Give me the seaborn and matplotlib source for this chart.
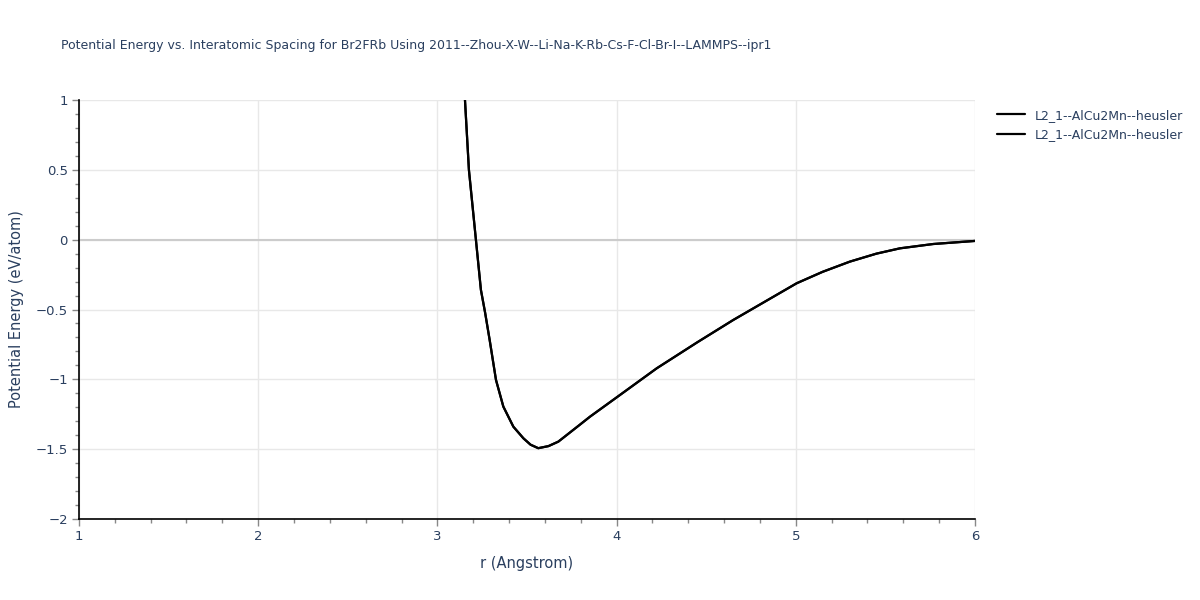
import numpy as np
import pandas as pd
import seaborn as sns
from matplotlib import pyplot as plt
from matplotlib.ticker import MultipleLocator

# values
r_values = [3.154, 3.176, 3.215, 3.243, 3.266, 3.292, 3.327, 3.368, 3.424, 3.48,
            3.52, 3.563, 3.62, 3.675, 3.79, 3.852, 4.006, 4.224, 4.45, 4.651,
            5.005, 5.15, 5.302, 5.45, 5.581, 5.767, 6.0]
energy_values = [1.0, 0.5, 0.0, -0.36, -0.52, -0.72, -1.004, -1.195, -1.339, -1.422,
                 -1.468, -1.493, -1.478, -1.446, -1.33, -1.267, -1.124, -0.921, -0.735,
                 -0.575, -0.312, -0.23, -0.157, -0.1, -0.062, -0.031, -0.009]
series_names = ["L2_1--AlCu2Mn--heusler", "L2_1--AlCu2Mn--heusler "]

TITLE = "Potential Energy vs. Interatomic Spacing for Br2FRb Using 2011--Zhou-X-W--Li-Na-K-Rb-Cs-F-Cl-Br-I--LAMMPS--ipr1"
TEXT = "#2a3f5f"


def main():
    sns.set_style("white")
    plt.rcParams['font.family'] = ['DejaVu Sans']

    df = pd.concat([pd.DataFrame(dict(r=r_values, energy=energy_values, name=n))
                    for n in series_names])

    fig = plt.figure(figsize=(12, 6), dpi=100)
    ax = fig.add_axes([0.0658, 0.135, 0.7467, 0.6983])
    sns.lineplot(data=df, x="r", y="energy", hue="name", ax=ax,
                 palette=["black", "black"], linewidth=1.6, estimator=None, sort=False)

    ax.set_xlim(1, 6)
    ax.set_ylim(-2, 1)
    ax.xaxis.set_major_locator(MultipleLocator(1))
    ax.xaxis.set_minor_locator(MultipleLocator(0.2))
    ax.yaxis.set_minor_locator(MultipleLocator(0.1))
    ax.set_yticks([1, 0.5, 0, -0.5, -1, -1.5, -2])
    ax.set_yticklabels(["1", "0.5", "0", "\u22120.5", "\u22121", "\u22121.5", "\u22122"])

    ax.grid(True, which="major", color="#e8e8e8", linewidth=1)
    ax.axhline(0, color="#cccccc", linewidth=1.5, zorder=1)
    for side in ["top", "right"]:
        ax.spines[side].set_visible(False)
    for side in ["left", "bottom"]:
        ax.spines[side].set_color("black")
        ax.spines[side].set_linewidth(1.2)

    ax.tick_params(which="major", direction="out", length=5, width=1, color="#888888",
                   labelsize=9.5, labelcolor=TEXT, left=True, bottom=True, pad=3)
    ax.tick_params(which="minor", direction="out", length=3, width=1, color="#888888",
                   left=True, bottom=True)

    ax.set_xlabel("r (Angstrom)", fontsize=10.5, color=TEXT, labelpad=9)
    ax.set_ylabel("Potential Energy (eV/atom)", fontsize=10.5, color=TEXT, labelpad=8)
    fig.text(61 / 1200, 1 - 46 / 600, TITLE, fontsize=9, color=TEXT, va="center")

    handles, _ = ax.get_legend_handles_labels()
    ax.legend(handles, [n.strip() for n in series_names], loc="upper left",
              bbox_to_anchor=(1.015, 1.0), frameon=False, fontsize=9,
              labelcolor=TEXT, handlelength=2.2, borderaxespad=0.3)

    fig.savefig("out.png", dpi=100)


if __name__ == '__main__':
    main()
